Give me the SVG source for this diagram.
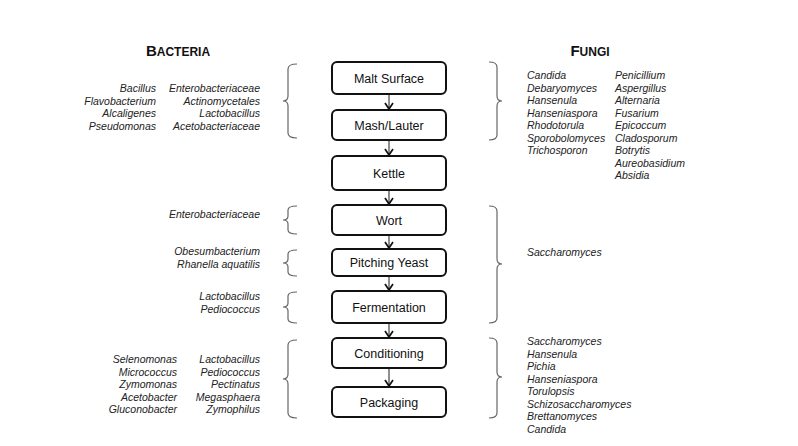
<svg xmlns="http://www.w3.org/2000/svg" width="798" height="446" viewBox="0 0 798 446">
<style>
.box{fill:#fff;stroke:#111;stroke-width:2}
.lbl{font-family:"Liberation Sans",Arial,sans-serif;font-size:12.5px;fill:#111;text-anchor:middle}
.sp{font-family:"Liberation Sans",Arial,sans-serif;font-size:10.5px;font-style:italic;fill:#222}
.r{text-anchor:end}
.hd{font-family:"Liberation Sans",Arial,sans-serif;font-weight:bold;fill:#111;text-anchor:middle;font-size:12px}
.br{fill:none;stroke:#666;stroke-width:1.2}
.ar{stroke:#444;stroke-width:1.2;fill:none}
</style>
<defs>
<marker id="ah" viewBox="0 0 10 10" refX="9" refY="5" markerWidth="10" markerHeight="10" markerUnits="userSpaceOnUse" orient="auto">
<path d="M3,1 L9,5 L3,9" fill="none" stroke="#111" stroke-width="1.7"/>
</marker>
</defs>
<rect width="798" height="446" fill="#fff"/>

<text class="hd" x="178" y="56"><tspan font-size="15">B</tspan>ACTERIA</text>
<text class="hd" x="590" y="56"><tspan font-size="15">F</tspan>UNGI</text>

<g id="connectors">
<line class="ar" x1="389" y1="94" x2="389" y2="109" marker-end="url(#ah)"/>
<line class="ar" x1="389" y1="140" x2="389" y2="155" marker-end="url(#ah)"/>
<line class="ar" x1="389" y1="190" x2="389" y2="204" marker-end="url(#ah)"/>
<line class="ar" x1="389" y1="235" x2="389" y2="248" marker-end="url(#ah)"/>
<line class="ar" x1="389" y1="276" x2="389" y2="290" marker-end="url(#ah)"/>
<line class="ar" x1="389" y1="323" x2="389" y2="337" marker-end="url(#ah)"/>
<line class="ar" x1="389" y1="368" x2="389" y2="386" marker-end="url(#ah)"/>
</g>

<g id="n-malt"><rect class="box" x="332" y="62" width="114" height="32" rx="5"/><text class="lbl" x="389" y="82.5">Malt Surface</text></g>
<g id="n-mash"><rect class="box" x="332" y="110" width="114" height="30" rx="5"/><text class="lbl" x="389" y="129.5">Mash/Lauter</text></g>
<g id="n-kettle"><rect class="box" x="332" y="156" width="114" height="34" rx="5"/><text class="lbl" x="389" y="177.5">Kettle</text></g>
<g id="n-wort"><rect class="box" x="332" y="205" width="114" height="30" rx="5"/><text class="lbl" x="389" y="224.5">Wort</text></g>
<g id="n-pitch"><rect class="box" x="332" y="249" width="114" height="27" rx="5"/><text class="lbl" x="389" y="267">Pitching Yeast</text></g>
<g id="n-ferm"><rect class="box" x="332" y="291" width="114" height="32" rx="5"/><text class="lbl" x="389" y="311.5">Fermentation</text></g>
<g id="n-cond"><rect class="box" x="332" y="338" width="114" height="30" rx="5"/><text class="lbl" x="389" y="357.5">Conditioning</text></g>
<g id="n-pack"><rect class="box" x="332" y="387" width="114" height="30" rx="5"/><text class="lbl" x="389" y="406.5">Packaging</text></g>

<g id="braces">
<path class="br" d="M297,64 Q288,64 288,69 V96 Q288,101 283,101 Q288,101 288,106 V133 Q288,138 297,138"/>
<path class="br" d="M297,206 Q288,206 288,210 V216 Q288,220 283,220 Q288,220 288,224 V230 Q288,234 297,234"/>
<path class="br" d="M297,250 Q288,250 288,254 V259 Q288,263 283,263 Q288,263 288,267 V272 Q288,276 297,276"/>
<path class="br" d="M297,292 Q288,292 288,296 V303 Q288,307 283,307 Q288,307 288,311 V319 Q288,323 297,323"/>
<path class="br" d="M297,340 Q288,340 288,345 V374 Q288,379 283,379 Q288,379 288,384 V413 Q288,418 297,418"/>
<path class="br" d="M489,62 Q497,62 497,67 V96 Q497,101 502,101 Q497,101 497,106 V135 Q497,140 489,140"/>
<path class="br" d="M489,206 Q497,206 497,211 V259 Q497,264 502,264 Q497,264 497,269 V318 Q497,323 489,323"/>
<path class="br" d="M489,338 Q497,338 497,343 V372 Q497,377 502,377 Q497,377 497,382 V413 Q497,418 489,418"/>
</g>

<g id="bacteria-1">
<text class="sp r" x="156" y="92">Bacillus</text>
<text class="sp r" x="156" y="104.5">Flavobacterium</text>
<text class="sp r" x="156" y="117">Alcaligenes</text>
<text class="sp r" x="156" y="129.5">Pseudomonas</text>
<text class="sp r" x="260" y="92">Enterobacteriaceae</text>
<text class="sp r" x="260" y="104.5">Actinomycetales</text>
<text class="sp r" x="260" y="117">Lactobacillus</text>
<text class="sp r" x="260" y="129.5">Acetobacteriaceae</text>
</g>
<g id="bacteria-2">
<text class="sp r" x="260" y="218">Enterobacteriaceae</text>
<text class="sp r" x="260" y="255">Obesumbacterium</text>
<text class="sp r" x="260" y="267.5">Rhanella aquatilis</text>
<text class="sp r" x="260" y="300">Lactobacillus</text>
<text class="sp r" x="260" y="312.5">Pediococcus</text>
</g>
<g id="bacteria-3">
<text class="sp r" x="177" y="363">Selenomonas</text>
<text class="sp r" x="177" y="375.5">Micrococcus</text>
<text class="sp r" x="177" y="388">Zymomonas</text>
<text class="sp r" x="177" y="400.5">Acetobacter</text>
<text class="sp r" x="177" y="413">Gluconobacter</text>
<text class="sp r" x="260" y="363">Lactobacillus</text>
<text class="sp r" x="260" y="375.5">Pediococcus</text>
<text class="sp r" x="260" y="388">Pectinatus</text>
<text class="sp r" x="260" y="400.5">Megasphaera</text>
<text class="sp r" x="260" y="413">Zymophilus</text>
</g>
<g id="fungi-1">
<text class="sp" x="527" y="79">Candida</text>
<text class="sp" x="527" y="91.5">Debaryomyces</text>
<text class="sp" x="527" y="104">Hansenula</text>
<text class="sp" x="527" y="116.5">Hanseniaspora</text>
<text class="sp" x="527" y="129">Rhodotorula</text>
<text class="sp" x="527" y="141.5">Sporobolomyces</text>
<text class="sp" x="527" y="154">Trichosporon</text>
<text class="sp" x="615" y="79">Penicillium</text>
<text class="sp" x="615" y="91.5">Aspergillus</text>
<text class="sp" x="615" y="104">Alternaria</text>
<text class="sp" x="615" y="116.5">Fusarium</text>
<text class="sp" x="615" y="129">Epicoccum</text>
<text class="sp" x="615" y="141.5">Cladosporum</text>
<text class="sp" x="615" y="154">Botrytis</text>
<text class="sp" x="615" y="166.5">Aureobasidium</text>
<text class="sp" x="615" y="179">Absidia</text>
</g>
<g id="fungi-2">
<text class="sp" x="527" y="256">Saccharomyces</text>
</g>
<g id="fungi-3">
<text class="sp" x="527" y="345">Saccharomyces</text>
<text class="sp" x="527" y="357.5">Hansenula</text>
<text class="sp" x="527" y="370">Pichia</text>
<text class="sp" x="527" y="382.5">Hanseniaspora</text>
<text class="sp" x="527" y="395">Torulopsis</text>
<text class="sp" x="527" y="407.5">Schizosaccharomyces</text>
<text class="sp" x="527" y="420">Brettanomyces</text>
<text class="sp" x="527" y="432.5">Candida</text>
</g>
</svg>
